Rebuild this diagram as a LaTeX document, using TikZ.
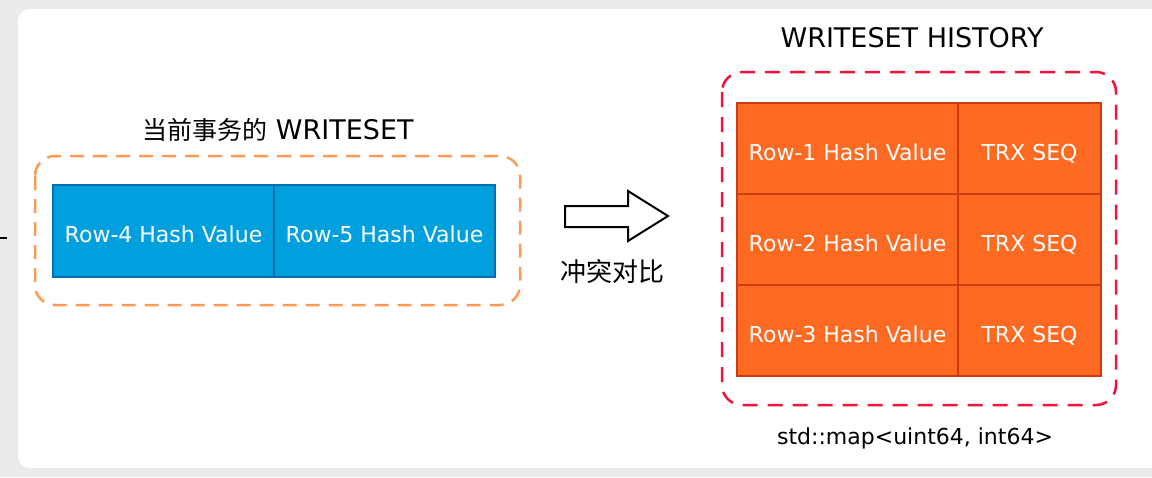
\documentclass[tikz,border=0pt]{standalone}
\usepackage{fontspec}
\setmainfont{DejaVu Sans}
\newfontfamily\cjkfont{Noto Sans CJK SC}
\usetikzlibrary{positioning}

\definecolor{bggrey}{HTML}{EBEBEB}
\definecolor{cellblue}{HTML}{00A0DF}
\definecolor{cellblueline}{HTML}{0A6FAE}
\definecolor{cellorange}{HTML}{FF6A22}
\definecolor{cellorangeline}{HTML}{C93D10}
\definecolor{dashorange}{HTML}{FF9A55}
\definecolor{dashred}{HTML}{F2123A}

\tikzset{
  hashcell/.style={draw=cellblueline, fill=cellblue, line width=1.5pt, text=white,
    minimum width=221pt, minimum height=92pt, inner sep=0pt, outer sep=0pt,
    text height=23pt, text depth=0pt, font=\fontsize{22}{26}\selectfont},
  histcell/.style={draw=cellorangeline, fill=cellorange, line width=1.5pt, text=white,
    minimum height=91pt, inner sep=0pt, outer sep=0pt,
    text height=23pt, text depth=0pt, font=\fontsize{22}{26}\selectfont},
  groupbox/.style={line width=2.5pt, rounded corners=20pt, dash pattern=on 14pt off 9pt},
  titletext/.style={font=\fontsize{27}{30}\selectfont}
}

\begin{document}
\begin{tikzpicture}[x=1pt,y=-1pt]
  \useasboundingbox (0,0) rectangle (1152,477);
  % frame
  \fill[bggrey] (0,0) rectangle (1152,477);
  \fill[white, rounded corners=12pt] (18,9) rectangle (1170,468);
  \draw[line width=2pt] (0,238) -- (7,238);

  % current writeset
  \node[titletext] (curtitle) at (278,130) {{\cjkfont\fontsize{25}{30}\selectfont 当前事务的} WRITESET};
  \draw[groupbox, draw=dashorange] (35,156) rectangle (520,305);
  \node[hashcell, anchor=north west] (row4) at (53,185) {Row-4 Hash Value};
  \node[hashcell, right=0pt of row4] (row5) {Row-5 Hash Value};

  % compare arrow
  \draw[line width=2pt, fill=white, line join=miter]
    (565,206) -- (628,206) -- (628,191) -- (668,216) -- (628,241) -- (628,227) -- (565,227) -- cycle;
  \node[font=\cjkfont\fontsize{26}{30}\selectfont] (cmplabel) at (612,272) {冲突对比};

  % history table
  \node[titletext] (histtitle) at (912,38) {WRITESET HISTORY};
  \draw[groupbox, draw=dashred, dash pattern=on 15pt off 10pt] (722,72) rectangle (1116,405);
  \node[histcell, minimum width=221pt, anchor=north west] (hash1) at (737,103) {Row-1 Hash Value};
  \node[histcell, minimum width=143pt, right=0pt of hash1] (seq1) {TRX SEQ};
  \node[histcell, minimum width=221pt, below=0pt of hash1] (hash2) {Row-2 Hash Value};
  \node[histcell, minimum width=143pt, right=0pt of hash2] (seq2) {TRX SEQ};
  \node[histcell, minimum width=221pt, below=0pt of hash2] (hash3) {Row-3 Hash Value};
  \node[histcell, minimum width=143pt, right=0pt of hash3] (seq3) {TRX SEQ};
  \node[font=\fontsize{22}{26}\selectfont] (maptype) at (915,438) {std::map<uint64, int64>};
\end{tikzpicture}
\end{document}
